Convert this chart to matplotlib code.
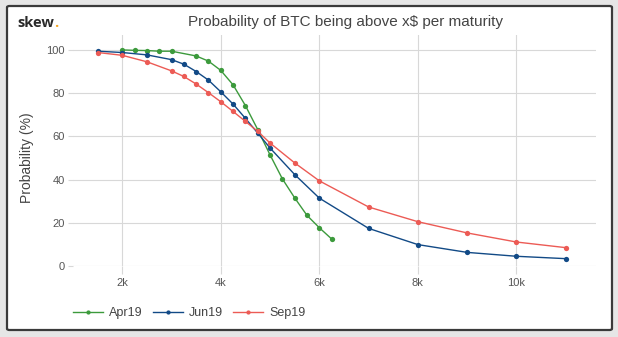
import matplotlib
matplotlib.use("Agg")
import matplotlib.pyplot as plt
from matplotlib.patches import FancyBboxPatch
from matplotlib.ticker import FuncFormatter

# strike prices ($) and probability of finishing above them (%)
x_apr = [2000, 2250, 2500, 2750, 3000, 3500, 3750, 4000, 4250, 4500,
         4750, 5000, 5250, 5500, 5750, 6000, 6250]
p_apr = [100, 99.8, 99.7, 99.4, 99.4, 97.2, 94.8, 90.5, 83.8, 74.2,
         63.1, 51.4, 40.3, 31.5, 23.4, 17.7, 12.5]

x_jun = [1500, 2000, 2500, 3000, 3250, 3500, 3750, 4000, 4250, 4500,
         4750, 5000, 5500, 6000, 7000, 8000, 9000, 10000, 11000]
p_jun = [99.4, 98.8, 97.7, 95.5, 93.4, 90.0, 86.0, 80.6, 74.9, 68.3,
         61.5, 54.6, 42.3, 31.4, 17.4, 9.9, 6.3, 4.5, 3.4]

x_sep = x_jun
p_sep = [98.8, 97.5, 94.5, 90.3, 87.7, 84.2, 80.2, 76.0, 71.5, 66.9,
         62.3, 56.9, 47.7, 39.4, 27.3, 20.5, 15.3, 11.1, 8.5]

series = [
    ("Apr19", x_apr, p_apr, "#3c9a3c"),
    ("Jun19", x_jun, p_jun, "#124a86"),
    ("Sep19", x_sep, p_sep, "#ec5b55"),
]
x_ticks = [2000, 4000, 6000, 8000, 10000]
y_ticks = [0, 20, 40, 60, 80, 100]

plt.rcParams["font.family"] = ["Liberation Sans", "DejaVu Sans"]

W, H = 618, 337
fig = plt.figure(figsize=(W / 100, H / 100), dpi=100)
fig.patch.set_facecolor("#e6e6e6")

# white card with dark border, kept behind the axes
card = FancyBboxPatch((7 / W, 1 - 330 / H), 605 / W, 324 / H,
                      boxstyle="round,pad=0,rounding_size=0.004",
                      transform=fig.transFigure, facecolor="white",
                      edgecolor="#3a3a3a", linewidth=1.6, zorder=-5)
fig.patches.append(card)

ax = fig.add_axes([73 / W, 1 - 266 / H, 523 / W, 231 / H])
ax.set_facecolor("none")
ax.set_zorder(2)

for name, xs, ps, col in series:
    ax.plot(xs, ps, color=col, lw=1.0, marker="o", ms=3.8,
            markeredgewidth=0, label=name, clip_on=False)

ax.set_xlim(1000, 11615)
ax.set_ylim(0, 106.9)
ax.set_xticks(x_ticks)
ax.set_yticks(y_ticks)
ax.xaxis.set_major_formatter(FuncFormatter(lambda v, p: f"{int(v / 1000)}k"))
ax.grid(True, color="#d8d8d8", lw=0.8)
ax.set_axisbelow(True)
for s in ax.spines.values():
    s.set_visible(False)
ax.tick_params(axis="x", length=6, width=0.8, color="#d8d8d8",
               labelsize=8, labelcolor="#555555", pad=3)
ax.tick_params(axis="y", length=3.6, width=0.8, color="#d8d8d8",
               labelsize=8, labelcolor="#555555", pad=2.5)

fig.text(27 / W, 1 - 158 / H, "Probability (%)", rotation=90,
         ha="center", va="center", fontsize=10, color="#444444")

fig.text(345 / W, 1 - 22 / H, "Probability of BTC being above x$ per maturity",
         ha="center", va="center", fontsize=11, color="#444444")

# logo
logo = fig.text(17 / W, 1 - 23 / H, "skew", ha="left", va="center",
                fontsize=10.5, fontweight="bold", color="#2a2a2a",
                family=["Open Sans", "DejaVu Sans"])
fig.canvas.draw()
bb = logo.get_window_extent()
fig.text(bb.x1 / W + 0.5 / W, 1 - 23 / H, ".", ha="left", va="center",
         fontsize=10.5, fontweight="bold", color="#f5a623",
         family=["Open Sans", "DejaVu Sans"])

fig.legend(loc="center left", bbox_to_anchor=(73 / W, 1 - 313 / H),
           bbox_transform=fig.transFigure, ncol=3, frameon=False,
           fontsize=9, labelcolor="#444444", handlelength=2.4,
           handletextpad=0.5, columnspacing=0.8, borderpad=0,
           borderaxespad=0, markerscale=0.8)

fig.savefig("out.png", dpi=100, facecolor=fig.get_facecolor())
